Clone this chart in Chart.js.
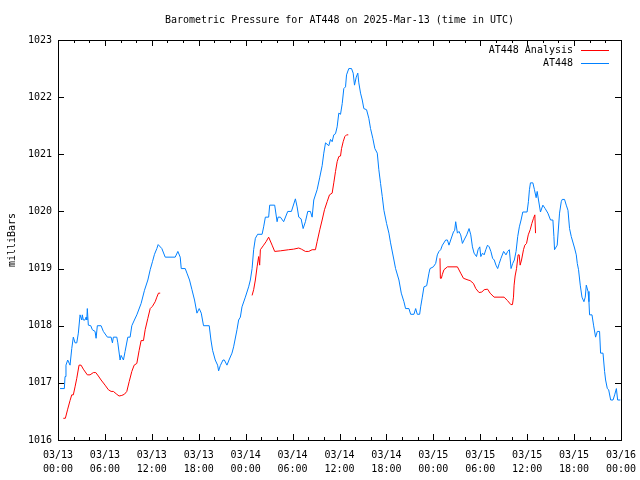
<!DOCTYPE html>
<html>
<head>
<meta charset="utf-8">
<script src="https://cdn.jsdelivr.net/npm/chart.js@4"></script>
<style>
  body { margin: 0; background: #fff; }
  canvas { display: block; }
</style>
</head>
<body>
<canvas id="pressureChart" width="640" height="480"></canvas>
<script>
// hours since 03/13 00:00 UTC
const stationHours = [0.26, 0.81, 0.90, 1.02, 1.24, 1.54, 1.76, 1.96, 2.18, 2.40, 2.60, 2.82, 3.04, 3.11, 3.24, 3.46, 3.59, 3.68, 3.75, 3.88,
    4.19, 4.39, 4.74, 4.87, 5.03, 5.51, 5.80, 6.32, 6.79, 6.96, 7.08, 7.52, 7.65, 7.94, 8.07, 8.37, 8.58, 8.93, 9.22, 9.44,
    9.77, 10.08, 10.63, 11.06, 11.49, 11.79, 12.08, 12.34, 12.64, 12.81, 13.28, 13.71, 14.99, 15.33, 15.63, 15.76, 16.27, 16.49, 16.82, 17.13,
    17.46, 17.77, 18.06, 18.32, 18.61, 19.34, 19.56, 19.77, 20.11, 20.41, 20.54, 20.75, 21.10, 21.27, 21.61, 21.87, 22.25, 22.46, 22.89, 23.10,
    23.32, 23.53, 23.96, 24.38, 24.60, 24.82, 25.02, 25.24, 25.53, 26.10, 26.30, 26.52, 26.94, 27.07, 27.71, 28.02, 28.14, 28.44, 28.86, 29.38,
    29.85, 30.36, 30.58, 30.79, 31.09, 31.35, 31.64, 31.94, 32.28, 32.50, 32.71, 33.14, 33.48, 33.78, 33.99, 34.21, 34.63, 34.85, 35.06, 35.27,
    35.49, 35.70, 35.91, 36.13, 36.35, 36.55, 36.77, 36.90, 37.19, 37.54, 37.75, 37.92, 38.14, 38.34, 38.47, 38.69, 38.91, 39.11, 39.46, 39.75,
    39.97, 40.26, 40.52, 40.83, 41.03, 41.25, 41.47, 41.68, 42.02, 42.32, 42.53, 42.96, 43.17, 43.60, 43.90, 44.24, 44.45, 44.88, 45.10, 45.52,
    45.74, 45.95, 46.25, 46.38, 46.59, 46.80, 47.15, 47.44, 47.57, 48.00, 48.30, 48.51, 48.72, 48.94, 49.16, 49.58, 49.80, 50.00, 50.22, 50.57,
    50.73, 50.86, 51.08, 51.28, 51.50, 51.72, 51.93, 52.27, 52.57, 52.79, 53.00, 53.21, 53.52, 53.72, 53.94, 54.07, 54.29, 54.50, 54.71, 54.93,
    55.14, 55.36, 55.58, 55.79, 56.01, 56.23, 56.43, 56.65, 56.99, 57.29, 57.51, 57.72, 57.94, 58.15, 58.36, 58.58, 58.79, 59.00, 59.22, 59.44,
    59.99, 60.16, 60.29, 60.42, 60.73, 60.93, 61.15, 61.28, 61.45, 61.70, 62.01, 62.30, 62.65, 62.99, 63.29, 63.42, 63.50, 63.84, 64.14, 64.36,
    64.48, 64.78, 65.00, 65.22, 65.42, 65.64, 66.06, 66.28, 66.41, 66.57, 66.79, 67.01, 67.26, 67.43, 67.56, 67.78, 67.90, 67.98, 68.29, 68.49,
    68.75, 68.97, 69.26, 69.39, 69.70, 69.90, 70.03, 70.25, 70.42, 70.68, 70.98, 71.19, 71.41, 71.57, 71.91];
const stationPressure = [1016.90, 1016.90, 1017.11, 1017.31, 1017.40, 1017.31, 1017.60, 1017.80, 1017.70, 1017.70, 1017.87, 1018.19, 1018.10, 1018.19, 1018.10, 1018.10, 1018.15, 1018.10, 1018.30, 1018.01,
    1018.00, 1017.93, 1017.90, 1017.78, 1018.00, 1018.00, 1017.90, 1017.80, 1017.80, 1017.70, 1017.80, 1017.80, 1017.70, 1017.40, 1017.48, 1017.40, 1017.55, 1017.80, 1017.80, 1018.00,
    1018.10, 1018.19, 1018.39, 1018.62, 1018.80, 1018.98, 1019.12, 1019.25, 1019.35, 1019.42, 1019.35, 1019.20, 1019.20, 1019.30, 1019.20, 1019.00, 1019.00, 1018.92, 1018.80, 1018.63,
    1018.45, 1018.22, 1018.30, 1018.22, 1018.00, 1018.00, 1017.75, 1017.57, 1017.40, 1017.31, 1017.21, 1017.30, 1017.40, 1017.40, 1017.31, 1017.40, 1017.52, 1017.63, 1017.93, 1018.10,
    1018.15, 1018.33, 1018.50, 1018.68, 1018.80, 1019.00, 1019.33, 1019.53, 1019.60, 1019.60, 1019.73, 1019.90, 1019.90, 1020.11, 1020.11, 1019.82, 1019.90, 1019.90, 1019.82, 1020.00,
    1020.00, 1020.22, 1020.08, 1019.90, 1019.87, 1019.70, 1019.82, 1020.00, 1020.00, 1019.90, 1020.20, 1020.38, 1020.60, 1020.80, 1021.02, 1021.20, 1021.15, 1021.26, 1021.22, 1021.34,
    1021.36, 1021.48, 1021.72, 1021.70, 1021.89, 1022.15, 1022.18, 1022.39, 1022.50, 1022.50, 1022.42, 1022.21, 1022.35, 1022.42, 1022.25, 1022.07, 1021.95, 1021.80, 1021.78, 1021.63,
    1021.45, 1021.28, 1021.10, 1021.02, 1020.73, 1020.49, 1020.26, 1020.02, 1019.79, 1019.62, 1019.45, 1019.15, 1019.00, 1018.80, 1018.57, 1018.42, 1018.30, 1018.30, 1018.20, 1018.20,
    1018.30, 1018.20, 1018.20, 1018.33, 1018.50, 1018.68, 1018.70, 1018.92, 1019.00, 1019.03, 1019.09, 1019.24, 1019.30, 1019.33, 1019.41, 1019.50, 1019.50, 1019.41, 1019.50, 1019.64,
    1019.67, 1019.82, 1019.62, 1019.65, 1019.59, 1019.44, 1019.50, 1019.59, 1019.70, 1019.59, 1019.38, 1019.27, 1019.21, 1019.33, 1019.38, 1019.21, 1019.27, 1019.24, 1019.33, 1019.41,
    1019.38, 1019.30, 1019.18, 1019.15, 1019.06, 1019.00, 1019.09, 1019.18, 1019.30, 1019.24, 1019.30, 1019.33, 1019.00, 1019.09, 1019.15, 1019.30, 1019.56, 1019.73, 1019.85, 1019.99,
    1019.99, 1020.17, 1020.38, 1020.50, 1020.50, 1020.38, 1020.24, 1020.35, 1020.20, 1019.99, 1020.11, 1020.05, 1019.97, 1019.85, 1019.85, 1019.56, 1019.33, 1019.41, 1019.97, 1020.17,
    1020.21, 1020.21, 1020.11, 1020.02, 1019.70, 1019.56, 1019.36, 1019.24, 1019.09, 1018.98, 1018.71, 1018.50, 1018.42, 1018.50, 1018.71, 1018.60, 1018.42, 1018.19, 1018.19, 1018.01,
    1017.80, 1017.90, 1017.90, 1017.52, 1017.52, 1017.20, 1017.05, 1016.90, 1016.88, 1016.70, 1016.70, 1016.79, 1016.90, 1016.70, 1016.70];

// analysis runs, null = gap between runs
const analysisHours = [0.68, 0.94, 1.24, 1.54, 1.76, 1.96, 2.18, 2.40, 2.69, 2.95, 3.24, 3.75, 4.10, 4.52, 4.83, 5.16, 5.51, 6.02, 6.44, 6.79,
    7.08, 7.52, 7.81, 8.16, 8.49, 8.80, 9.10, 9.44, 9.74, 10.08, 10.38, 10.63, 10.93, 11.15, 11.49, 11.79, 12.08, 12.43, 12.64, 12.85,
    13.07, 18.0,
    24.82, 25.02, 25.24, 25.46, 25.66, 25.79, 25.88, 26.30, 26.61, 26.94, 27.38, 27.71, 28.44, 29.50, 30.14, 30.79, 31.13, 31.64, 32.07, 32.50,
    32.92, 33.14, 33.48, 33.78, 34.08, 34.42, 34.72, 35.06, 35.27, 35.49, 35.70, 35.91, 36.13, 36.26, 36.47, 36.68, 36.90, 37.12, 43.0,
    48.85, 48.90, 49.03, 49.16, 49.36, 49.80, 51.08, 51.50, 51.85, 52.44, 52.70, 53.13, 53.43, 53.85, 54.20, 54.50, 54.93, 55.26, 55.77, 56.53,
    57.05, 57.48, 57.91, 58.12, 58.25, 58.33, 58.46, 58.64, 58.84, 58.98, 59.10, 59.28, 59.53, 59.70, 59.92, 60.14, 60.39, 60.60, 60.81, 60.98,
    61.07];
const analysisPressure = [1016.38, 1016.38, 1016.54, 1016.69, 1016.79, 1016.79, 1016.93, 1017.08, 1017.31, 1017.31, 1017.24, 1017.14, 1017.14, 1017.18, 1017.18, 1017.12, 1017.05, 1016.96, 1016.88, 1016.85,
    1016.85, 1016.80, 1016.77, 1016.78, 1016.80, 1016.85, 1017.02, 1017.20, 1017.31, 1017.34, 1017.57, 1017.74, 1017.74, 1017.93, 1018.13, 1018.30, 1018.34, 1018.42, 1018.50, 1018.57,
    1018.57, null,
    1018.53, 1018.63, 1018.80, 1019.03, 1019.21, 1019.06, 1019.33, 1019.41, 1019.47, 1019.55, 1019.41, 1019.30, 1019.31, 1019.33, 1019.34, 1019.36, 1019.34, 1019.30, 1019.30, 1019.33,
    1019.33, 1019.47, 1019.68, 1019.85, 1020.03, 1020.17, 1020.29, 1020.32, 1020.50, 1020.70, 1020.87, 1020.96, 1020.97, 1021.10, 1021.22, 1021.31, 1021.34, 1021.34, null,
    1019.18, 1018.83, 1018.83, 1018.90, 1018.98, 1019.03, 1019.03, 1018.92, 1018.83, 1018.80, 1018.79, 1018.74, 1018.65, 1018.58, 1018.59, 1018.63, 1018.64, 1018.57, 1018.50, 1018.50,
    1018.50, 1018.44, 1018.37, 1018.37, 1018.50, 1018.71, 1018.87, 1019.00, 1019.24, 1019.24, 1019.06, 1019.15, 1019.33, 1019.41, 1019.44, 1019.59, 1019.68, 1019.79, 1019.88, 1019.94,
    1019.62];

const dayLabels = ['03/13', '03/14', '03/15', '03/16'];
const chartTitle = 'Barometric Pressure for AT448 on 2025-Mar-13 (time in UTC)';
const FONT = '"DejaVu Sans Mono", "Liberation Mono", monospace';

function toPoints(xs, ys) {
    return xs.map((h, i) => ({ x: h, y: ys[i] }));
}

function tickLabel(value) {
    const day = dayLabels[Math.floor(value / 24)];
    const hh = String(value % 24).padStart(2, '0');
    return [day, hh + ':00'];
}

// gnuplot style frame: title over the plot, border box, inward ticks, legend top right
const gnuplotFrame = {
    id: 'gnuplotFrame',
    afterDraw(chart) {
        const { ctx, chartArea: a, scales: { x, y } } = chart;
        ctx.save();
        ctx.font = '10px ' + FONT;
        ctx.fillStyle = '#000';
        ctx.textAlign = 'center';
        ctx.textBaseline = 'middle';
        ctx.fillText(chartTitle, (a.left + a.right) / 2, 20);

        ctx.strokeStyle = '#000';
        ctx.lineWidth = 1;
        ctx.beginPath();
        for (let h = x.min; h <= x.max; h += 2) {
            const px = Math.round(x.getPixelForValue(h)) + 0.5;
            const len = h % 6 === 0 ? 6 : 3;
            ctx.moveTo(px, a.bottom);
            ctx.lineTo(px, a.bottom - len);
            ctx.moveTo(px, a.top);
            ctx.lineTo(px, a.top + len);
        }
        for (let v = y.min; v <= y.max; v++) {
            const py = Math.round(y.getPixelForValue(v)) + 0.5;
            ctx.moveTo(a.left, py);
            ctx.lineTo(a.left + 6, py);
            ctx.moveTo(a.right, py);
            ctx.lineTo(a.right - 6, py);
        }
        ctx.stroke();
        ctx.strokeRect(Math.round(a.left) + 0.5, Math.round(a.top) + 0.5,
            Math.round(a.right - a.left), Math.round(a.bottom - a.top));

        ctx.textAlign = 'right';
        chart.data.datasets.forEach((ds, i) => {
            const ly = a.top + 10 + i * 13;
            ctx.fillStyle = '#000';
            ctx.fillText(ds.label, a.right - 48, ly);
            ctx.strokeStyle = ds.borderColor;
            ctx.beginPath();
            ctx.moveTo(a.right - 40, Math.round(ly) + 0.5);
            ctx.lineTo(a.right - 12, Math.round(ly) + 0.5);
            ctx.stroke();
        });
        ctx.restore();
    }
};

const ctx = document.getElementById('pressureChart').getContext('2d');
new Chart(ctx, {
    type: 'line',
    data: {
        datasets: [
            {
                label: 'AT448 Analysis',
                data: toPoints(analysisHours, analysisPressure),
                borderColor: '#ff0000',
                borderWidth: 1,
                pointRadius: 0,
                spanGaps: false,
                fill: false
            },
            {
                label: 'AT448',
                data: toPoints(stationHours, stationPressure),
                borderColor: '#0080ff',
                borderWidth: 1,
                pointRadius: 0,
                fill: false
            }
        ]
    },
    options: {
        responsive: false,
        animation: false,
        layout: { padding: { left: 0, right: 19, top: 40, bottom: 0 } },
        plugins: {
            legend: { display: false },
            tooltip: { enabled: false },
            title: { display: false }
        },
        scales: {
            x: {
                type: 'linear',
                min: 0,
                max: 72,
                grid: { display: false, drawTicks: false },
                border: { display: false },
                ticks: {
                    stepSize: 6,
                    autoSkip: false,
                    maxRotation: 0,
                    padding: 8,
                    color: '#000',
                    font: { family: FONT, size: 10, lineHeight: 1.4 },
                    callback: tickLabel
                },
                afterFit(scale) {
                    scale.height = 40;
                    scale.paddingLeft = 0;
                    scale.paddingRight = 0;
                }
            },
            y: {
                min: 1016,
                max: 1023,
                grid: { display: false, drawTicks: false },
                border: { display: false },
                ticks: {
                    stepSize: 1,
                    padding: 6,
                    color: '#000',
                    font: { family: FONT, size: 10 },
                    callback: v => String(v)
                },
                title: {
                    display: true,
                    text: 'milliBars',
                    color: '#000',
                    font: { family: FONT, size: 10 },
                    padding: { top: 6, bottom: 0 }
                },
                afterFit(scale) {
                    scale.width = 58;
                    scale.paddingTop = 0;
                    scale.paddingBottom = 0;
                }
            }
        }
    },
    plugins: [gnuplotFrame]
});
</script>
</body>
</html>
